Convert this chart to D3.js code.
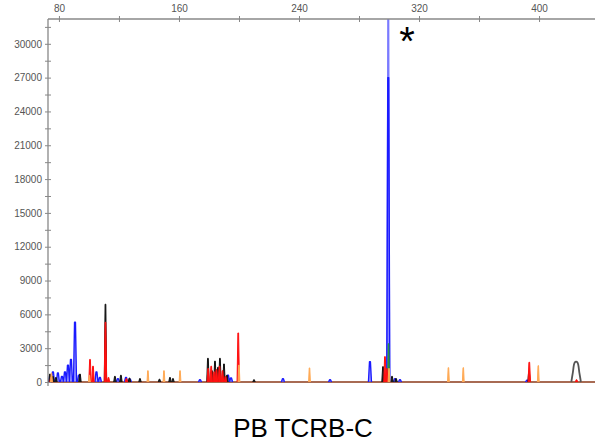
<!DOCTYPE html>
<html><head><meta charset="utf-8">
<script src="https://cdn.jsdelivr.net/npm/d3@7"></script>
<style>body{margin:0;background:#fff}svg{display:block}</style>
</head><body>
<script>
// ---- data ----
const sizeTicks = [80, 160, 240, 320, 400];
const sizeMinorTicks = [120, 200, 280, 360];
const rfuTicks = [0, 3000, 6000, 9000, 12000, 15000, 18000, 21000, 24000, 27000, 30000];
const title = "PB TCRB-C";
const markLabel = "*";
// peaks: [size (bp), height (RFU)]
const bluePeaks = [[74,500],[76,900],[79.3,800],[82,500],[84,900],[86,1500],[88,2000],[90.7,5300],[93.3,600],[105,900],[107.3,400],[119.3,300],[124.7,400],[127.3,250],[174,200],[192.7,600],[194.7,350],[229.3,300],[260.7,200],[287.3,1800],[299.5,27000],[304,300],[307.3,200],[392,150]];
const blueSaturated = [[299.5,33000]];
const greenPeaks = [[299.7,3400]];
const blackPeaks = [[74,700],[76,500],[78,400],[94,700],[111,6900],[117.3,500],[121.3,600],[127,350],[134,300],[147,250],[154,400],[156,300],[179.3,2100],[182,1000],[184,1850],[186,1300],[187.3,2100],[190,1600],[192,600],[210,200],[296,1360],[302,500],[304.7,300],[393.3,900]];
const redPeaks = [[74.7,400],[100.7,2000],[102.7,1400],[111,5300],[113,400],[125,300],[179.5,1200],[181.5,1400],[183.5,900],[185,1100],[187,1400],[189,1000],[191,500],[199.5,4350],[297.3,2250],[298.5,1200],[393.5,1750],[425,200]];
const orangePeaks = [[75,800],[100.3,600],[139.3,1000],[150,1000],[160.7,1000],[200,1500],[247,1250],[300,1200],[339.6,1270],[349.5,1270],[399.5,1450]];
const sizeStdPeaks = [[424.7,1800]];

// ---- layout ----
const W = 595, H = 446;
const mL = 48, mR = 595, mT = 19, mB = 382;
const x = d3.scaleLinear().domain([72.7, 437.3]).range([mL, mR]);
const y = d3.scaleLinear().domain([0, 32200]).range([mB, mT]);

const svg = d3.select("body").append("svg").attr("width", W).attr("height", H);
svg.append("defs").append("clipPath").attr("id","clip")
  .append("rect").attr("x", mL).attr("y", mT).attr("width", mR-mL).attr("height", mB-mT+4);

const g = svg.append("g").attr("clip-path","url(#clip)");

function peakPath(peaks, hw) {
  const line = d3.line().x(d => x(d[0])).y(d => y(d[1]));
  return peaks.map(p => line([[p[0]-hw, 0],[p[0]-hw*0.3, p[1]],[p[0]+hw*0.3, p[1]],[p[0]+hw, 0]])).join("");
}
function drawSeries(peaks, hw, stroke, fill, fillOp, sw) {
  g.append("path").attr("d", peakPath(peaks, hw))
    .attr("fill", fill).attr("fill-opacity", fillOp)
    .attr("stroke", stroke).attr("stroke-width", sw).attr("stroke-linejoin","round");
}

// baseline
g.append("line").attr("x1", mL).attr("x2", mR).attr("y1", y(0)).attr("y2", y(0))
  .attr("stroke", "#8b3a1a").attr("stroke-width", 1.5);

drawSeries(blueSaturated, 0.9, "#7a7aff", "#a8a8ff", 0.6, 1.3);
drawSeries(bluePeaks, 1.0, "#1a1aff", "#7070ff", 0.55, 1.4);
drawSeries(greenPeaks, 0.6, "#2a9a3a", "#2a9a3a", 1, 1);
drawSeries(blackPeaks, 0.8, "#111", "#222", 1, 1);
drawSeries(redPeaks, 0.8, "#ff1010", "#ff1010", 1, 1);
drawSeries(orangePeaks, 0.6, "#ffaa55", "#ffaa55", 1, 1);
// size-standard hump (rounded)
const humpLine = d3.line().x(d => x(d[0])).y(d => y(d[1])).curve(d3.curveCatmullRom);
g.append("path")
  .attr("d", sizeStdPeaks.map(p => humpLine([[p[0]-3.2,0],[p[0]-2.2,p[1]*0.45],[p[0]-1,p[1]*0.95],[p[0],p[1]],[p[0]+1,p[1]*0.95],[p[0]+2.2,p[1]*0.45],[p[0]+3.2,0]])).join(""))
  .attr("fill","none").attr("stroke","#555").attr("stroke-width",1.8);

// axes
const axisColor = "#888", textColor = "#555";
const fam = "Liberation Sans, Arial, sans-serif";
const topAxis = svg.append("g").attr("transform", `translate(0,${mT})`)
  .call(d3.axisTop(x).tickValues(sizeTicks).tickSize(3).tickSizeOuter(0).tickPadding(4).tickFormat(d3.format("d")));
const topMinor = svg.append("g").attr("transform", `translate(0,${mT})`)
  .call(d3.axisTop(x).tickValues(sizeMinorTicks).tickSize(3).tickSizeOuter(0).tickFormat(""));
topMinor.select(".domain").remove();
topAxis.select(".domain").attr("d", `M${mL},0H${mR}`);
[topAxis, topMinor].forEach(a => a.selectAll(".tick line").attr("y1", 3).attr("y2", -3));

const leftAxis = svg.append("g").attr("transform", `translate(${mL},0)`)
  .call(d3.axisLeft(y).tickValues(rfuTicks).tickSize(3).tickSizeOuter(0).tickPadding(3).tickFormat(d3.format("d")));
const leftMinor = svg.append("g").attr("transform", `translate(${mL},0)`)
  .call(d3.axisLeft(y).tickValues(rfuTicks.map(v => v + 1500)).tickSize(3).tickSizeOuter(0).tickFormat(""));
leftMinor.select(".domain").remove();
leftAxis.select(".domain").attr("d", `M0,${mT}V${mB+4}`);
[leftAxis, leftMinor].forEach(a => a.selectAll(".tick line").attr("x1", 3).attr("x2", -3));

svg.selectAll(".domain").attr("stroke", axisColor).attr("stroke-width", 1.3);
svg.selectAll(".tick line").attr("stroke", axisColor).attr("stroke-width", 1);
svg.selectAll(".tick text").attr("fill", textColor).attr("font-family", fam).attr("font-size", 10);

// asterisk
svg.append("text").attr("x", 407).attr("y", 55).attr("text-anchor","middle")
  .attr("font-family", fam).attr("font-size", 40).attr("fill","#000").text(markLabel);
// title
svg.append("text").attr("x", 303).attr("y", 437).attr("text-anchor","middle")
  .attr("font-family", fam).attr("font-size", 26).attr("fill","#000").text(title);
</script>
</body></html>
